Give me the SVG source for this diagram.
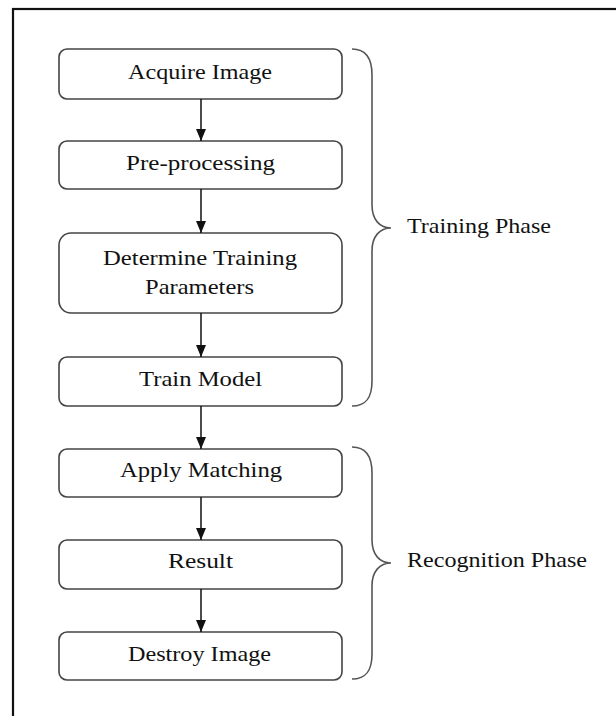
<svg xmlns="http://www.w3.org/2000/svg" width="616" height="716" viewBox="0 0 616 716">
<style>
.box{fill:#fff;stroke:#444;stroke-width:1.6}
.t{font-family:"Liberation Serif","Times New Roman",serif;font-size:21.5px;fill:#111;text-anchor:middle}
.l{font-family:"Liberation Serif","Times New Roman",serif;font-size:21.5px;fill:#111}
.c{stroke:#111;stroke-width:1.5;fill:none}
.br{stroke:#555;stroke-width:1.6;fill:none}
</style>
<defs>
<marker id="ah" viewBox="0 0 12 10" refX="12" refY="5" markerWidth="12" markerHeight="10" markerUnits="userSpaceOnUse" orient="auto">
<path d="M0,0 L12,5 L0,10 z" fill="#111"/>
</marker>
</defs>
<rect width="616" height="716" fill="#fff"/>
<rect x="13" y="9" width="700" height="800" fill="none" stroke="#111" stroke-width="2.2"/>
<g id="n1"><rect class="box" x="59" y="49" width="283" height="50" rx="8"/><text class="t" x="200" y="79" textLength="144" lengthAdjust="spacingAndGlyphs">Acquire Image</text></g>
<g id="n2"><rect class="box" x="59" y="141" width="283" height="48" rx="8"/><text class="t" x="200.5" y="170" textLength="149" lengthAdjust="spacingAndGlyphs">Pre-processing</text></g>
<g id="n3"><rect class="box" x="59" y="233" width="283" height="80" rx="12"/><text class="t" x="200" y="265" textLength="194" lengthAdjust="spacingAndGlyphs">Determine Training</text><text class="t" x="199.5" y="294" textLength="109" lengthAdjust="spacingAndGlyphs">Parameters</text></g>
<g id="n4"><rect class="box" x="59" y="357" width="283" height="49" rx="8"/><text class="t" x="200.5" y="386" textLength="123" lengthAdjust="spacingAndGlyphs">Train Model</text></g>
<g id="n5"><rect class="box" x="59" y="449" width="283" height="48" rx="8"/><text class="t" x="201" y="477" textLength="162" lengthAdjust="spacingAndGlyphs">Apply Matching</text></g>
<g id="n6"><rect class="box" x="59" y="540" width="283" height="49" rx="8"/><text class="t" x="200.5" y="568" textLength="65" lengthAdjust="spacingAndGlyphs">Result</text></g>
<g id="n7"><rect class="box" x="59" y="632" width="283" height="48" rx="8"/><text class="t" x="199.5" y="661" textLength="143" lengthAdjust="spacingAndGlyphs">Destroy Image</text></g>
<g id="connectors">
<line class="c" x1="201" y1="99" x2="201" y2="141" marker-end="url(#ah)"/>
<line class="c" x1="201" y1="189" x2="201" y2="233" marker-end="url(#ah)"/>
<line class="c" x1="201" y1="313" x2="201" y2="357" marker-end="url(#ah)"/>
<line class="c" x1="201" y1="406" x2="201" y2="449" marker-end="url(#ah)"/>
<line class="c" x1="201" y1="497" x2="201" y2="540" marker-end="url(#ah)"/>
<line class="c" x1="201" y1="589" x2="201" y2="632" marker-end="url(#ah)"/>
</g>
<g id="training">
<path class="br" d="M352,49 C366,49 372,58 372,75 L372,205 C372,220 380,228 391,228 C380,228 372,236 372,251 L372,381 C372,398 366,406 352,406"/>
<text class="l" x="407" y="233" textLength="144" lengthAdjust="spacingAndGlyphs">Training Phase</text>
</g>
<g id="recognition">
<path class="br" d="M352,447 C366,447 372,456 372,473 L372,540 C372,555 380,563 391,563 C380,563 372,571 372,586 L372,654 C372,671 366,679 352,679"/>
<text class="l" x="407" y="567" textLength="180" lengthAdjust="spacingAndGlyphs">Recognition Phase</text>
</g>
</svg>
